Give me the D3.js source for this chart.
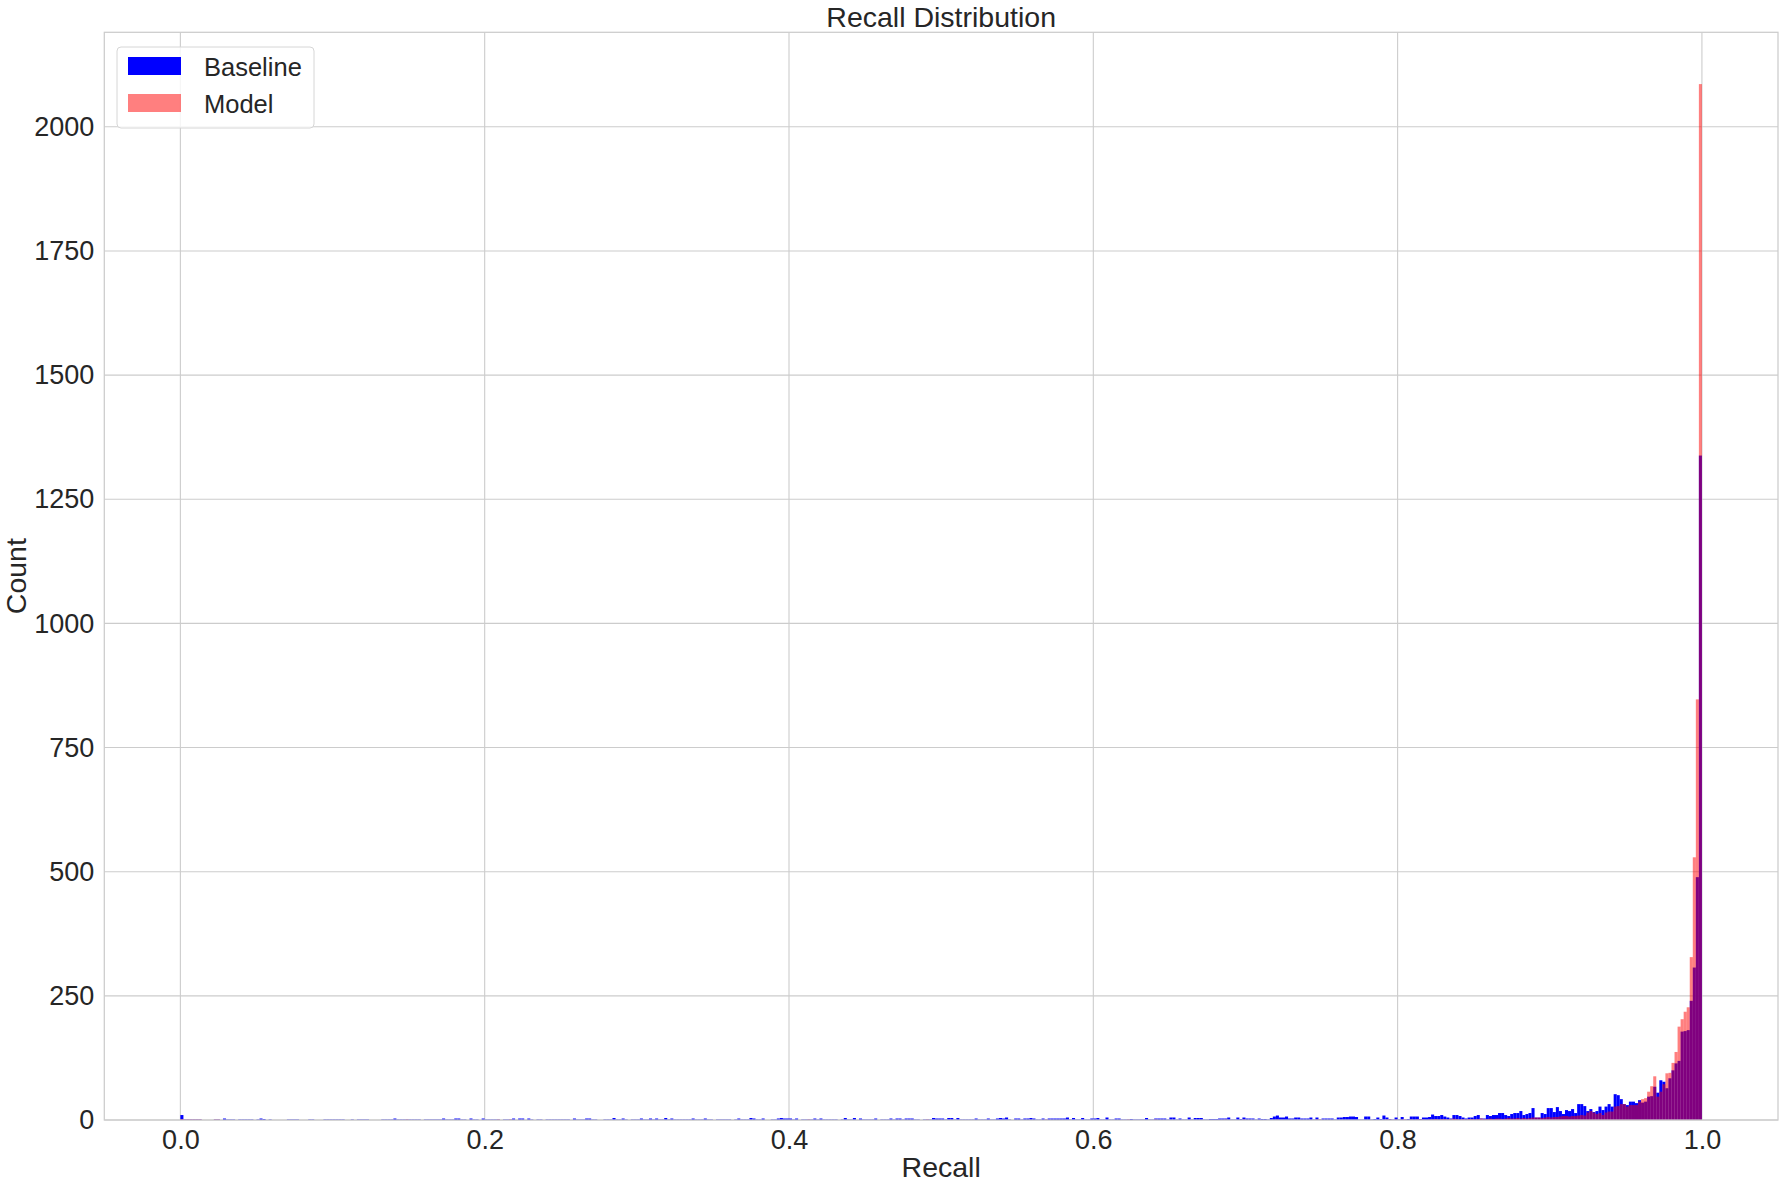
<!DOCTYPE html>
<html>
<head>
<meta charset="utf-8">
<script src="https://cdn.jsdelivr.net/npm/d3@7"></script>
<style>
  body { margin: 0; background: #fff; }
  text { font-family: "Liberation Sans", Arial, sans-serif; fill: #262626; }
</style>
</head>
<body>
<div id="chart"></div>
<script>
// histogram: 500 bins over recall in [0, 1]
var nBins = 500;

// baseline counts per bin
var baselineCounts = [
  10,1,1,1,1,1,1,0,0,0,0,1,1,0,3,1,1,1,0,1,1,1,1,1,0,
  1,3,2,0,1,0,0,0,0,0,1,1,1,1,0,0,0,1,1,0,0,0,1,1,1,
  1,1,1,1,0,0,1,0,1,1,1,1,0,0,0,0,1,1,1,1,3,1,1,1,1,
  1,1,1,1,0,1,1,1,1,1,1,3,1,1,1,3,3,1,1,0,3,1,1,0,3,
  1,1,1,1,1,0,1,1,1,3,0,3,3,0,3,1,0,1,1,0,1,1,1,1,1,
  1,1,1,0,3,1,1,1,3,3,1,1,0,0,1,1,1,4,1,1,3,1,0,1,1,
  1,3,1,1,3,1,3,1,1,4,1,3,1,1,1,1,1,1,3,1,1,1,3,1,1,
  0,1,1,1,1,1,0,1,3,1,1,1,4,3,1,1,3,0,0,1,1,3,4,3,3,
  3,1,3,0,1,1,1,1,3,1,3,1,1,1,1,1,0,1,4,1,1,4,0,3,1,
  1,1,1,3,0,1,1,1,3,1,3,3,1,3,3,3,1,1,0,1,1,1,4,3,3,
  3,1,4,4,1,4,1,1,1,1,1,3,1,1,1,3,1,1,3,4,3,5,1,0,3,
  3,1,3,3,4,3,1,1,3,1,3,3,3,3,3,3,5,1,4,1,1,4,1,1,3,
  3,4,1,1,5,1,1,3,3,1,1,1,2,1,1,1,1,4,1,1,3,3,3,3,1,
  5,5,1,3,1,1,5,1,4,4,4,1,1,2,2,2,3,3,3,5,1,1,5,2,5,
  3,3,3,1,3,2,2,1,4,7,9,5,5,7,3,3,5,5,3,3,3,5,1,5,1,
  3,3,3,3,1,5,5,6,6,7,7,6,1,1,7,7,1,2,5,2,9,5,2,1,5,
  1,6,1,2,7,7,7,2,5,5,6,11,8,8,10,7,5,3,10,10,8,5,3,5,5,
  8,10,3,3,10,8,10,10,14,14,10,8,12,14,14,18,10,12,14,24,5,5,14,12,24,
  24,16,26,18,12,20,18,22,14,32,32,28,18,22,16,18,27,20,27,32,27,52,50,42,32,
  30,37,37,34,40,35,37,47,48,67,55,80,77,64,84,100,114,119,178,179,181,240,307,489,1338
];

// model counts per bin
var modelCounts = [
  2,1,1,1,1,1,1,0,0,0,0,1,1,0,0,0,0,0,0,0,0,0,0,0,0,
  0,0,0,0,0,0,0,0,0,0,0,0,0,0,0,0,0,0,0,0,0,0,0,0,0,
  0,0,0,0,0,0,0,0,0,0,0,0,0,0,0,0,0,0,0,0,0,0,0,0,1,
  0,0,0,0,0,0,0,0,0,0,0,0,0,0,0,0,0,0,0,0,0,0,0,0,0,
  0,0,0,0,1,0,0,0,1,0,0,0,0,0,0,0,0,0,0,0,0,0,0,0,0,
  0,0,0,0,0,0,0,0,0,0,0,0,0,0,0,0,0,0,0,0,0,0,0,0,0,
  0,0,0,0,0,0,0,0,0,0,0,0,0,0,0,0,0,0,0,0,0,0,0,0,0,
  0,0,0,0,0,0,0,0,0,0,0,0,0,0,0,0,0,0,0,0,0,0,0,0,0,
  0,0,0,0,0,0,1,0,0,0,0,0,0,0,0,0,0,0,0,0,0,0,0,0,0,
  0,0,0,0,0,0,0,0,0,0,0,0,0,0,0,0,0,0,0,0,1,0,0,0,0,
  0,0,0,0,0,0,0,0,0,0,0,0,0,0,0,0,0,0,0,0,0,0,0,0,0,
  0,0,0,0,0,0,0,0,0,1,0,0,0,0,0,0,0,0,0,0,0,0,0,0,0,
  0,0,0,0,0,0,0,0,0,0,0,1,0,0,0,0,0,0,0,0,1,0,0,0,0,
  0,0,0,0,0,0,0,0,0,0,0,0,0,0,0,0,0,0,1,0,0,0,0,0,1,
  0,0,0,0,0,0,0,0,0,0,1,0,0,0,0,0,0,0,0,0,0,0,0,1,1,
  0,0,0,0,0,0,0,0,0,0,0,0,0,0,0,0,0,0,0,0,0,1,1,0,1,
  0,1,1,0,1,0,1,1,1,0,1,1,2,1,2,2,1,2,3,2,1,2,1,2,2,
  1,2,3,2,2,3,2,3,3,2,3,4,3,3,4,3,4,3,4,5,5,5,4,5,6,
  5,6,6,7,8,8,7,8,8,9,10,9,15,18,15,12,14,10,15,17,17,27,28,32,32,
  27,30,30,30,37,42,44,57,68,88,47,57,72,94,95,115,137,188,203,218,227,328,529,847,2086
];

var seriesNames = ["Baseline", "Model"];
var xTicks = [0, 0.2, 0.4, 0.6, 0.8, 1.0];
var yTicks = [0, 250, 500, 750, 1000, 1250, 1500, 1750, 2000];

var width = 1785, height = 1189;
var margin = {top: 32.3, right: 7, bottom: 69, left: 104.3};
var plotW = width - margin.left - margin.right,
    plotH = height - margin.top - margin.bottom;

var x = d3.scaleLinear().domain([-0.05, 1.05]).range([0, plotW]);
var ymax = d3.max(baselineCounts.concat(modelCounts)) * 1.05;
var y = d3.scaleLinear().domain([0, ymax]).range([plotH, 0]);

var svg = d3.select("#chart").append("svg")
    .attr("width", width)
    .attr("height", height);

var g = svg.append("g")
    .attr("transform", "translate(" + margin.left + "," + margin.top + ")");

// grid lines
g.append("g")
  .attr("class", "grid")
  .selectAll("line.gx")
  .data(xTicks)
  .enter().append("line")
  .attr("x1", function(d) { return x(d); })
  .attr("x2", function(d) { return x(d); })
  .attr("y1", 0).attr("y2", plotH)
  .attr("stroke", "#cccccc").attr("stroke-width", 1.1);

g.select(".grid")
  .selectAll("line.gy")
  .data(yTicks)
  .enter().append("line")
  .attr("x1", 0).attr("x2", plotW)
  .attr("y1", function(d) { return y(d); })
  .attr("y2", function(d) { return y(d); })
  .attr("stroke", "#cccccc").attr("stroke-width", 1.1);

function binData(counts) {
  return counts.map(function(c, i) {
    return {x0: i / nBins, x1: (i + 1) / nBins, count: c};
  }).filter(function(d) { return d.count > 0; });
}

// baseline bars (opaque blue)
g.append("g")
  .selectAll("rect")
  .data(binData(baselineCounts))
  .enter().append("rect")
  .attr("x", function(d) { return x(d.x0); })
  .attr("width", function(d) { return x(d.x1) - x(d.x0); })
  .attr("y", function(d) { return y(d.count); })
  .attr("height", function(d) { return plotH - y(d.count); })
  .attr("fill", "#0000ff");

// model bars (red, half transparent)
g.append("g")
  .selectAll("rect")
  .data(binData(modelCounts))
  .enter().append("rect")
  .attr("x", function(d) { return x(d.x0); })
  .attr("width", function(d) { return x(d.x1) - x(d.x0); })
  .attr("y", function(d) { return y(d.count); })
  .attr("height", function(d) { return plotH - y(d.count); })
  .attr("fill", "#ff0000")
  .attr("fill-opacity", 0.5);

// spines
g.append("rect")
  .attr("width", plotW).attr("height", plotH)
  .attr("fill", "none")
  .attr("stroke", "#cccccc").attr("stroke-width", 1.25);

// axes
var xAxis = g.append("g")
  .attr("transform", "translate(0," + plotH + ")")
  .call(d3.axisBottom(x).tickValues(xTicks).tickFormat(d3.format(".1f")).tickSize(0).tickPadding(10));
var yAxis = g.append("g")
  .call(d3.axisLeft(y).tickValues(yTicks).tickFormat(d3.format("d")).tickSize(0).tickPadding(10));
[xAxis, yAxis].forEach(function(a) {
  a.select(".domain").remove();
  a.selectAll("text").attr("font-size", 27).style("fill", "#262626")
    .attr("font-family", '"Liberation Sans", Arial, sans-serif');
});

// title and labels
svg.append("text")
  .attr("x", margin.left + plotW / 2).attr("y", 27)
  .attr("text-anchor", "middle").attr("font-size", 28.5)
  .text("Recall Distribution");

svg.append("text")
  .attr("x", margin.left + plotW / 2).attr("y", 1177)
  .attr("text-anchor", "middle").attr("font-size", 28.5)
  .text("Recall");

svg.append("text")
  .attr("transform", "translate(26," + (margin.top + plotH / 2) + ") rotate(-90)")
  .attr("text-anchor", "middle").attr("font-size", 28.5)
  .text("Count");

// legend
var legend = svg.append("g").attr("transform", "translate(117,47)");
legend.append("rect")
  .attr("width", 197).attr("height", 81)
  .attr("rx", 4).attr("ry", 4)
  .attr("fill", "#ffffff").attr("fill-opacity", 0.8)
  .attr("stroke", "#d6d6d6").attr("stroke-width", 1);

var legendColors = [{fill: "#0000ff", op: 1}, {fill: "#ff0000", op: 0.5}];
var item = legend.selectAll("g.item")
  .data(seriesNames)
  .enter().append("g")
  .attr("class", "item")
  .attr("transform", function(d, i) { return "translate(0," + (i * 37) + ")"; });

item.append("rect")
  .attr("x", 11).attr("y", 10)
  .attr("width", 53).attr("height", 18)
  .attr("fill", function(d, i) { return legendColors[i].fill; })
  .attr("fill-opacity", function(d, i) { return legendColors[i].op; });

item.append("text")
  .attr("x", 87).attr("y", 28.5)
  .attr("font-size", 25.5)
  .text(function(d) { return d; });
</script>
</body>
</html>
